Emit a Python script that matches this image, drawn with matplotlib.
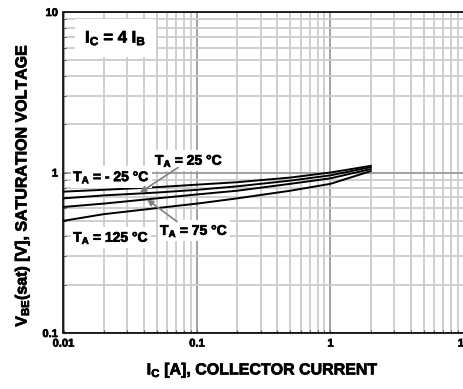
import matplotlib
matplotlib.use("Agg")
import matplotlib.pyplot as plt
import matplotlib.patheffects as pe
from matplotlib.ticker import LogLocator, FixedLocator, FixedFormatter, NullFormatter

plt.rcParams['font.family'] = ['Liberation Sans', 'DejaVu Sans']
plt.rcParams['font.weight'] = 'bold'
plt.rcParams['mathtext.fontset'] = 'custom'
plt.rcParams['mathtext.rm'] = 'Liberation Sans:weight=bold'
plt.rcParams['mathtext.bf'] = 'Liberation Sans:weight=bold'
plt.rcParams['mathtext.it'] = 'Liberation Sans:weight=bold'
plt.rcParams['mathtext.default'] = 'bf'

# Data
ic = [0.01, 0.02, 0.05, 0.1, 0.2, 0.5, 1.0, 2.0]
vbe_m25 = [0.76, 0.78, 0.81, 0.84, 0.87, 0.93, 1.00, 1.10]
vbe_25 = [0.69, 0.72, 0.75, 0.78, 0.82, 0.89, 0.96, 1.08]
vbe_75 = [0.61, 0.64, 0.69, 0.73, 0.77, 0.85, 0.92, 1.05]
vbe_125 = [0.50, 0.55, 0.60, 0.64, 0.69, 0.77, 0.85, 1.02]

x_ticks = [0.01, 0.1, 1, 10]
x_ticklabels = ['0.01', '0.1', '1', '10']
y_ticks = [0.1, 1, 10]
y_ticklabels = ['0.1', '1', '10']

W, H = 464, 389
fig = plt.figure(figsize=(W / 100, H / 100), dpi=100)
ax = fig.add_axes([63.5 / W, 1 - 333 / H, (464 - 63.5) / W, (333 - 12) / H])
ax.set_xscale('log')
ax.set_yscale('log')
ax.set_xlim(0.01, 10)
ax.set_ylim(0.1, 10)

ax.xaxis.set_major_locator(FixedLocator(x_ticks))
ax.xaxis.set_major_formatter(FixedFormatter(x_ticklabels))
ax.yaxis.set_major_locator(FixedLocator(y_ticks))
ax.yaxis.set_major_formatter(FixedFormatter(y_ticklabels))
ax.xaxis.set_minor_locator(LogLocator(base=10, subs=range(2, 10)))
ax.yaxis.set_minor_locator(LogLocator(base=10, subs=range(2, 10)))
ax.xaxis.set_minor_formatter(NullFormatter())
ax.yaxis.set_minor_formatter(NullFormatter())

ax.grid(which='minor', color='#cccccc', lw=1.3)
ax.grid(which='major', color='#9a9a9a', lw=1.3)
ax.set_axisbelow(True)
ax.tick_params(which='both', direction='in', length=2, width=0.8, color='#555555')
ax.tick_params(which='major', labelsize=8, pad=4)
heavy = [pe.withStroke(linewidth=0.5, foreground='black')]
for lab in ax.get_xticklabels() + ax.get_yticklabels():
    lab.set_fontweight('bold')
    lab.set_path_effects(heavy)
for s in ['left', 'bottom', 'top']:
    ax.spines[s].set_linewidth(1.2)
ax.spines['right'].set_visible(False)

for v in (vbe_m25, vbe_25, vbe_75, vbe_125):
    ax.plot(ic, v, color='black', lw=1.4, zorder=3)

box = dict(fc='white', ec='none', pad=1.5)
fs = 10
kw = dict(fontsize=fs, fontweight='bold', va='center', ha='left', bbox=box, zorder=4, path_effects=heavy)
ax.text(0.0118, 0.94, r'T$_{A}$ = - 25 °C', **kw)
ax.text(0.0484, 1.19, r'T$_{A}$ = 25 °C', **kw)
ax.text(0.0528, 0.435, r'T$_{A}$ = 75 °C', **kw)
ax.text(0.0118, 0.394, r'T$_{A}$ = 125 °C', **kw)
ax.text(0.0145, 6.9, r'I$_{C}$ = 4 I$_{B}$', fontsize=12, fontweight='bold', va='center', ha='left',
        bbox=dict(fc='white', ec='none', pad=7), zorder=4, path_effects=heavy)

arrow = dict(arrowstyle='-|>', color='#808080', lw=1.2, mutation_scale=9, shrinkA=0, shrinkB=0)
ax.annotate('', xy=(0.0374, 0.75), xytext=(0.0721, 1.074), arrowprops=arrow, zorder=5)
ax.annotate('', xy=(0.0422, 0.679), xytext=(0.0708, 0.495), arrowprops=arrow, zorder=5)

fig.text(263 / W, 1 - 370 / H, r'I$_{C}$ [A], COLLECTOR CURRENT', fontsize=11.5, fontweight='bold',
         ha='center', va='center', path_effects=heavy)
fig.text(22 / W, 1 - 185 / H, r'V$_{BE}$(sat) [V], SATURATION VOLTAGE', fontsize=11.5, fontweight='bold',
         ha='center', va='center', rotation=90, path_effects=heavy)

fig.savefig('out.png', dpi=100)
